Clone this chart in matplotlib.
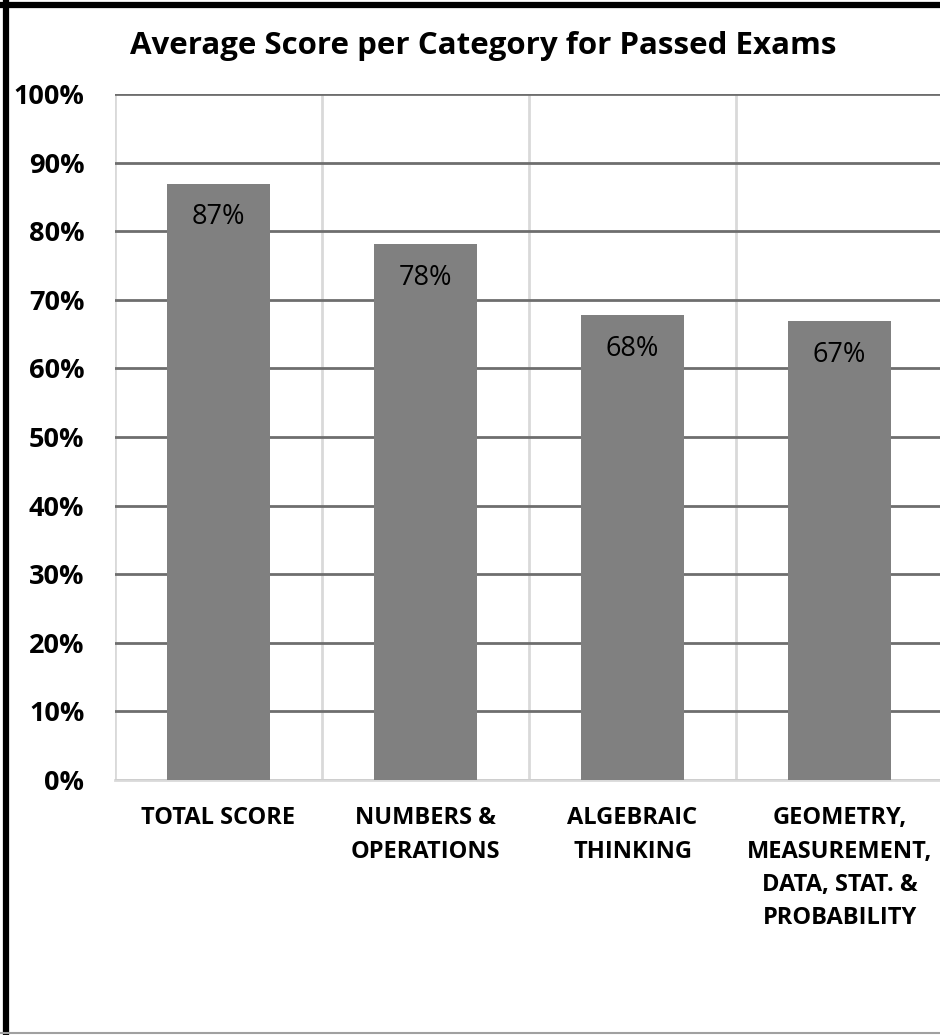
import matplotlib.pyplot as plt
from matplotlib.lines import Line2D
from matplotlib.ticker import PercentFormatter, FixedLocator

categories = ['TOTAL SCORE', 'NUMBERS &\nOPERATIONS', 'ALGEBRAIC\nTHINKING',
              'GEOMETRY,\nMEASUREMENT,\nDATA, STAT. &\nPROBABILITY']
scores = [86.9, 78.1, 67.8, 66.9]
bar_labels = ['87%', '78%', '68%', '67%']

plt.rcParams['font.family'] = ['Open Sans', 'DejaVu Sans']

fig = plt.figure(figsize=(9.4, 10.35), dpi=100)
ax = fig.add_axes([115/940, 1 - 780/1035, 828/940, 686/1035])

x = range(len(categories))
bars = ax.bar(x, scores, width=0.5, color='#808080', zorder=3)
for b, lab in zip(bars, bar_labels):
    ax.text(b.get_x() + b.get_width()/2, b.get_height() - 4.9, lab,
            ha='center', va='center', fontsize=19.5, color='black', zorder=4)

ax.set_xlim(-0.5, 3.5)
ax.set_ylim(0, 100)
ax.set_yticks(range(0, 101, 10))
ax.yaxis.set_major_formatter(PercentFormatter(decimals=0))
ax.set_xticks(list(x))
ax.set_xticklabels(categories, fontsize=17, fontweight='bold', va='top', linespacing=1.52)
for t in ax.get_yticklabels():
    t.set_fontweight('bold')
    t.set_fontsize(19.5)
ax.tick_params(axis='both', length=0)
ax.tick_params(axis='y', pad=22)
ax.tick_params(axis='x', pad=19)

ax.yaxis.grid(True, color='#6e6e6e', linewidth=2, zorder=1)
ax.xaxis.set_minor_locator(FixedLocator([-0.5, 0.5, 1.5, 2.5]))
ax.xaxis.grid(True, which='minor', color='#d9d9d9', linewidth=2, zorder=1)
ax.tick_params(axis='x', which='minor', length=0)
for s in ['top', 'right', 'left']:
    ax.spines[s].set_visible(False)
ax.spines['bottom'].set_color('#d9d9d9')
ax.spines['bottom'].set_linewidth(2)
ax.spines['bottom'].set_zorder(2)

fig.text(0.514, 1 - 46/1035, 'Average Score per Category for Passed Exams',
         ha='center', va='center', fontsize=22.5, fontweight='bold')

# outer frame
fig.add_artist(Line2D([6/940, 6/940], [0, 1], transform=fig.transFigure, color='black', linewidth=4.5))
fig.add_artist(Line2D([0, 1], [1 - 5/1035, 1 - 5/1035], transform=fig.transFigure, color='black', linewidth=4.5))
fig.add_artist(Line2D([0, 1], [2/1035, 2/1035], transform=fig.transFigure, color='#a0a0a0', linewidth=1.5))

fig.savefig('out.png', dpi=100)
